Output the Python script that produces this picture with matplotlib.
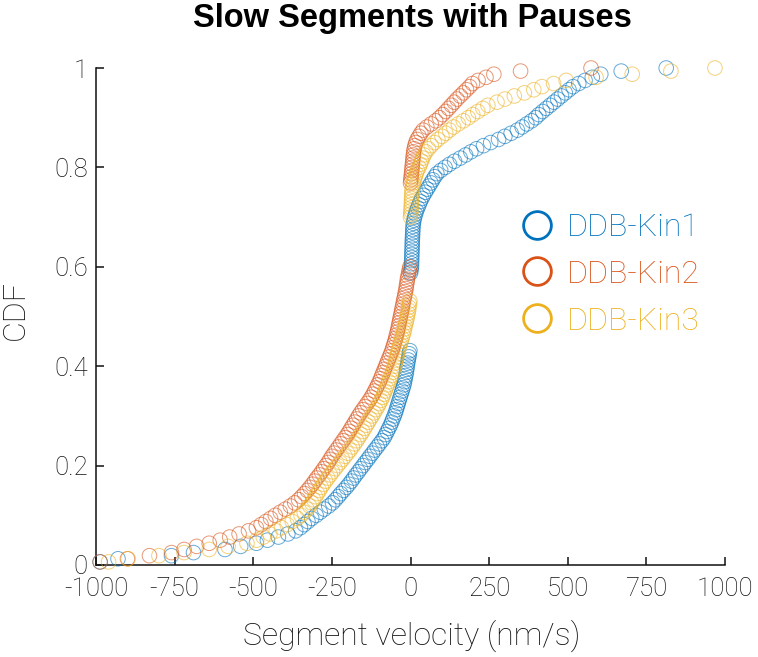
import numpy as np
import matplotlib
matplotlib.use("Agg")
import matplotlib.pyplot as plt
from matplotlib.lines import Line2D

# ---------------- data (segment velocities, nm/s) ----------------
series_names = ["DDB-Kin1", "DDB-Kin2", "DDB-Kin3"]
series_colors = ["#0072BD", "#D95319", "#EDB120"]

kin1_nonzero = [
    -987, -930, -760, -690, -590, -540, -490, -455, -420, -390, -365, -350, -338, -326,
    -314, -300, -287, -274, -260, -248, -239, -230, -222, -213, -204, -196, -188, -181,
    -174, -166, -159, -151, -144, -136, -129, -121, -114, -106, -99, -91, -84, -79, -74,
    -69, -64, -60, -56, -52, -48, -45, -42, -39, -36, -33, -30, -27, -24, -21, -19, -17,
    -15, -13, -12, -10, -9, -7, -5, -4, -2,
    2, 3, 3.3, 3.6, 4, 4.3, 4.6, 5, 5.3, 5.6, 6, 6.5, 7, 7.5, 8, 9, 11, 13, 16, 19, 23,
    27, 31, 36, 41, 47, 53, 59, 65, 71, 77, 84, 96, 110, 124, 140, 158, 175, 192, 210,
    232, 255, 280, 300, 320, 340, 355, 370, 385, 398, 408, 420, 432, 444, 456, 468, 480,
    492, 504, 517, 535, 555, 578, 605, 670, 813,
]
kin1_pauses = 25

kin2_nonzero = [
    -987, -900, -830, -760, -720, -680, -640, -605, -575, -545, -515, -490, -475, -460,
    -445, -430, -414, -398, -382, -368, -356, -346, -337, -328, -320, -312, -305, -298,
    -290, -283, -276, -269, -262, -256, -250, -243, -236, -229, -222, -215, -208, -201,
    -195, -189, -183, -177, -171, -165, -159, -152, -145, -138, -131, -125, -119, -114,
    -109, -104, -99, -95, -91, -87, -83, -79, -75, -71, -67, -63, -59, -56, -53, -50,
    -47, -45, -42, -40, -38, -36, -34, -32, -30, -28, -26, -24, -22, -20, -18, -16, -14,
    -13, -11, -10, -8, -6, -4, -2,
    1, 2, 3, 4, 5, 6, 7, 8, 9, 10, 12, 14, 17, 21, 27, 33, 40, 52, 66, 80, 92, 102, 112,
    121, 130, 139, 148, 158, 168, 178, 188, 197, 215, 240, 265, 350, 574,
]
kin2_pauses = 27

kin3_nonzero = [
    -960, -898, -800, -720, -640, -580, -520, -489, -468, -447, -427, -410, -392, -376,
    -360, -348, -338, -329, -321, -314, -308, -302, -296, -290, -284, -277, -270, -263,
    -255, -248, -240, -232, -224, -216, -208, -200, -192, -185, -178, -171, -165, -158,
    -152, -146, -140, -134, -128, -122, -116, -110, -104, -99, -94, -89, -85, -81, -77,
    -73, -69, -65, -61, -57, -54, -51, -48, -46, -43, -41, -39, -36, -33, -30, -27, -24,
    -21, -19, -17, -14, -12, -10, -8, -6, -5, -3, -2,
    1, 1.4, 2, 2.4, 3, 3.4, 4, 4.5, 5, 7, 9, 12, 15, 18, 22, 27, 31, 35, 39, 43, 49, 57,
    66, 76, 87, 100, 112, 124, 137, 152, 168, 184, 198, 214, 230, 246, 275, 300, 330,
    362, 392, 418, 455, 495, 590, 705, 828, 968,
]
kin3_pauses = 27

all_nonzero = [kin1_nonzero, kin2_nonzero, kin3_nonzero]
all_pauses = [kin1_pauses, kin2_pauses, kin3_pauses]

x_ticks = [-1000, -750, -500, -250, 0, 250, 500, 750, 1000]
y_ticks = [0, 0.2, 0.4, 0.6, 0.8, 1]
y_tick_labels = ["0", "0.2", "0.4", "0.6", "0.8", "1"]

# ---------------- figure ----------------
W, H = 758, 657
fig = plt.figure(figsize=(W / 100, H / 100), dpi=100)
ax = fig.add_axes([96 / W, 1 - 565 / H, (725 - 96) / W, (565 - 68) / H])

FAM = ["Roboto", "DejaVu Sans"]
TXT = "#111111"

for vals, pauses, col in zip(all_nonzero, all_pauses, series_colors):
    data = np.sort(np.array(list(vals) + [0.0] * pauses, dtype=float))
    uniq, counts = np.unique(data, return_counts=True)
    cdf = np.cumsum(counts) / data.size
    ax.scatter(uniq, cdf, s=10.5 ** 2, facecolors="none", edgecolors=col,
               linewidths=0.7, alpha=0.6, clip_on=False, zorder=3)

ax.set_xlim(-1000, 1000)
ax.set_ylim(0, 1)
ax.set_xticks(x_ticks)
ax.set_xticklabels([str(t) for t in x_ticks])
ax.set_yticks(y_ticks)
ax.set_yticklabels(y_tick_labels)

for s in ["top", "right"]:
    ax.spines[s].set_visible(False)
for s in ["left", "bottom"]:
    ax.spines[s].set_linewidth(1.1)
    ax.spines[s].set_color(TXT)

ax.tick_params(direction="in", length=6, width=1.1, color=TXT, labelcolor=TXT)
ax.tick_params(axis="x", pad=9)
ax.tick_params(axis="y", pad=6)
for lab in ax.get_xticklabels() + ax.get_yticklabels():
    lab.set_fontfamily(FAM)
    lab.set_fontweight("light")
    lab.set_fontsize(18.5)

fig.text(412 / W, 1 - 636 / H, "Segment velocity (nm/s)", ha="center", va="center",
         fontsize=23, color=TXT, family=FAM, weight="light")
fig.text(15 / W, 1 - 310 / H, "CDF", ha="center", va="center", rotation=90,
         fontsize=23, color=TXT, family=FAM, weight="light")
fig.text(412 / W, 1 - 18 / H, "Slow Segments with Pauses", ha="center", va="center",
         fontsize=23.5, fontweight="bold", family=["Liberation Sans", "DejaVu Sans"],
         color="black")

# legend
handles = [Line2D([], [], linestyle="none", marker="o", markersize=20,
                  markerfacecolor="none", markeredgecolor=c, markeredgewidth=2.0)
           for c in series_colors]
leg = ax.legend(handles, series_names, loc="upper left",
                bbox_to_anchor=((491 - 96) / (725 - 96), (565 - 184) / (565 - 68)),
                frameon=False, handlelength=1.05, handletextpad=0.42, labelspacing=0.56,
                prop=dict(family=FAM, weight="light", size=23))
for txt, c in zip(leg.get_texts(), series_colors):
    txt.set_color(c)

fig.savefig("out.png", dpi=100)
